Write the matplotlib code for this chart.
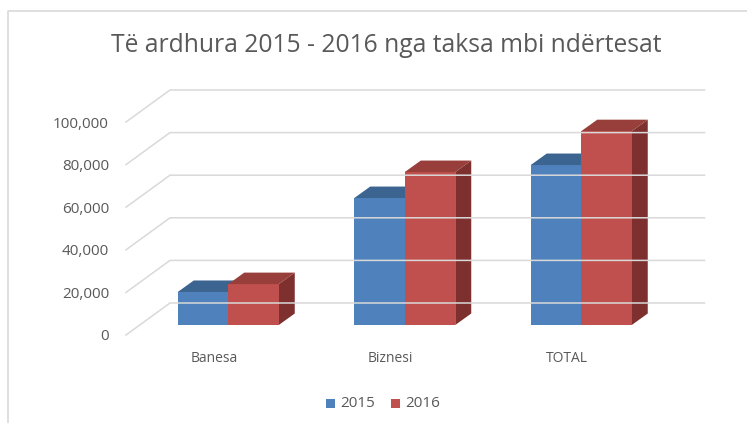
import matplotlib
matplotlib.use("Agg")
import matplotlib.pyplot as plt
import numpy as np
from matplotlib.patches import Polygon
from matplotlib.transforms import IdentityTransform
from matplotlib.lines import Line2D

categories = ["Banesa", "Biznesi", "TOTAL"]
series_names = ["2015", "2016"]
values_2015 = [15500, 59600, 75100]
values_2016 = [19200, 71800, 91000]
yticks = [0, 20000, 40000, 60000, 80000, 100000]
title = "Të ardhura 2015 - 2016 nga taksa mbi ndërtesat"

FONT = "Open Sans"
W, H, DPI = 747, 423, 100
fig = plt.figure(figsize=(W / DPI, H / DPI), dpi=DPI)
fig.patch.set_facecolor("white")

# axes in the bar front plane
left_px, right_px = 140, 669.5
base_px = H - 325
ymax = 110000
px_per_unit = 42.6 / 20000
top_px = base_px + ymax * px_per_unit
ax = fig.add_axes([left_px / W, base_px / H, (right_px - left_px) / W, (top_px - base_px) / H])
ax.set_xlim(-0.5, 2.5)
ax.set_ylim(0, ymax)
ax.axis("off")

ident = IdentityTransform()

def disp(x, y, dx=0, dy=0):
    p = ax.transData.transform((x, y))
    return (p[0] + dx, p[1] + dy)

# geometry offsets (in pixels, dy positive = up)
back_dx, back_dy = 30, 22        # back wall relative to bar front plane
front_dx, front_dy = -14, -10    # label plane relative to bar front plane
depth_dx, depth_dy = 16, 11.5    # bar depth
grid_color = "#d9d9d9"
wall_right = right_px + back_dx + 5

# gridlines
for v in yticks:
    p0 = disp(-0.5, v, front_dx, front_dy)
    p1 = disp(-0.5, v, back_dx, back_dy)
    p2 = (wall_right, p1[1])
    fig.add_artist(Line2D([p0[0], p1[0], p2[0]], [p0[1], p1[1], p2[1]],
                          transform=ident, color=grid_color, lw=1.1, zorder=1))
    lp = disp(-0.5, v, front_dx, front_dy)
    fig.text(109 / W, (lp[1] - 2) / H, f"{v:,}", ha="right", va="center",
             fontsize=11, color="#595959", family=FONT)

# bars
bw = 50.5 / 176.5
x = np.arange(len(categories))
styles = [
    ("#4F81BD", "#3B6490", "#2E4F74"),
    ("#C0504D", "#983E3B", "#7D302E"),
]
for si, vals in enumerate([values_2015, values_2016]):
    front, topc, sidec = styles[si]
    xs = x - bw + si * bw
    ax.bar(xs, vals, width=bw, align="edge", color=front, zorder=3 + si * 3, clip_on=False)
    for xi, v in zip(xs, vals):
        tl = disp(xi, v)
        tr = disp(xi + bw, v)
        br = disp(xi + bw, 0)
        top = Polygon([tl, tr, (tr[0] + depth_dx, tr[1] + depth_dy), (tl[0] + depth_dx, tl[1] + depth_dy)],
                      closed=True, transform=ident, facecolor=topc, edgecolor="none", zorder=4 + si * 3)
        side = Polygon([tr, br, (br[0] + depth_dx, br[1] + depth_dy), (tr[0] + depth_dx, tr[1] + depth_dy)],
                       closed=True, transform=ident, facecolor=sidec, edgecolor="none", zorder=2 + si * 3)
        ax.add_patch(top)
        ax.add_patch(side)
        top.set_clip_on(False)
        side.set_clip_on(False)

# category labels in label plane
for i, c in enumerate(categories):
    p = disp(i, 0, front_dx, front_dy)
    fig.text(p[0] / W, (H - 358) / H, c, ha="center", va="center",
             fontsize=10, color="#595959", family=FONT)

# title
fig.text(386 / W, (H - 45) / H, title, ha="center", va="center",
         fontsize=17.7, color="#595959", family=FONT)

# legend
leg_y = H - 403
for i, (name, col) in enumerate(zip(series_names, [styles[0][0], styles[1][0]])):
    x0 = 326 + i * 65
    fig.add_artist(plt.Rectangle((x0 / W, (leg_y - 4.5) / H), 9 / W, 9 / H,
                                 transform=fig.transFigure, facecolor=col, edgecolor="none"))
    fig.text((x0 + 14) / W, leg_y / H, name, ha="left", va="center",
             fontsize=11, color="#595959", family=FONT)

# chart border (left and top)
fig.add_artist(Line2D([8 / W, 8 / W, 1.0], [0, (H - 11) / H, (H - 11) / H],
                      transform=fig.transFigure, color="#d9d9d9", lw=1.2))

fig.savefig("out.png", dpi=DPI)
